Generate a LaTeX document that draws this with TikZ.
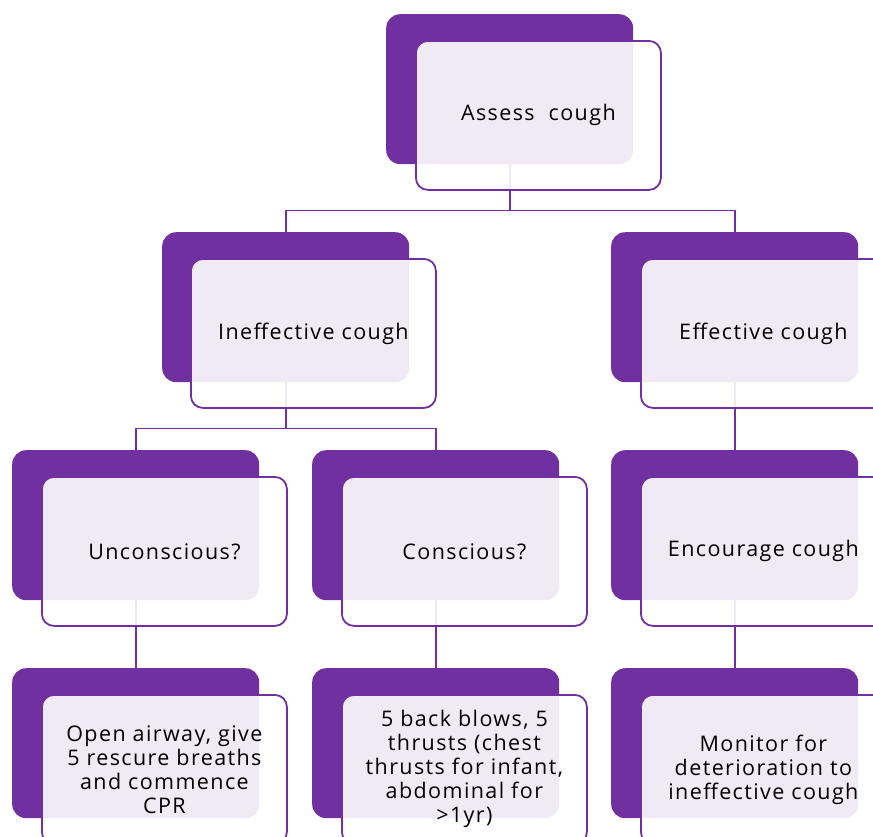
\documentclass[tikz,border=0pt]{standalone}
\usepackage{fontspec}
\setmainfont[LetterSpace=6.5]{Open Sans}
\definecolor{pp}{HTML}{7030A0}
\begin{document}
\begin{tikzpicture}[x=1pt,y=-1pt,
  darkbox/.style={fill=pp, rounded corners=14pt, anchor=north west, minimum width=247pt, minimum height=150pt, inner sep=0pt},
  litebox/.style={draw=pp, line width=1.8pt, fill=white, fill opacity=0.9, rounded corners=12pt, anchor=north west, minimum width=245pt, minimum height=149pt, inner sep=0pt},
  txt/.style={text=black, align=center, font=\fontsize{21.5}{24}\selectfont, inner sep=0pt},
  conn/.style={draw=pp, line width=1.8pt}]
\useasboundingbox (0,0) rectangle (873,836);
% back boxes
\node[darkbox] (aD) at (386,14) {};
\node[darkbox] (bD) at (162,232) {};
\node[darkbox] (cD) at (611,232) {};
\node[darkbox] (dD) at (12,450) {};
\node[darkbox] (eD) at (312,450) {};
\node[darkbox] (fD) at (611,450) {};
\node[darkbox] (gD) at (12,668) {};
\node[darkbox] (hD) at (312,668) {};
\node[darkbox] (iD) at (611,668) {};
% connectors
\draw[conn] (aD.south) -- ++(0,46) -| (bD.north);
\draw[conn] (aD.south) -- ++(0,46) -| (cD.north);
\draw[conn] (bD.south) -- ++(0,46) -| (dD.north);
\draw[conn] (bD.south) -- ++(0,46) -| (eD.north);
\draw[conn] (cD.south) -- (fD.north);
\draw[conn] (dD.south) -- (gD.north);
\draw[conn] (eD.south) -- (hD.north);
\draw[conn] (fD.south) -- (iD.north);
% front boxes
\node[litebox] (aL) at (415,40) {};
\node[litebox] (bL) at (190,258) {};
\node[litebox] (cL) at (640,258) {};
\node[litebox] (dL) at (41,476) {};
\node[litebox] (eL) at (341,476) {};
\node[litebox] (fL) at (640,476) {};
\node[litebox] (gL) at (41,694) {};
\node[litebox] (hL) at (341,694) {};
\node[litebox] (iL) at (640,694) {};
% texts
\node[txt] (aT) at (aL.center) {Assess\ \ cough};
\node[txt] (bT) at (bL.center) {Ineffective cough};
\node[txt] (cT) at (cL.center) {Effective cough};
\node[txt] (dT) at (dL.center) {Unconscious?};
\node[txt] (eT) at (eL.center) {Conscious?};
\node[txt] (fT) at (fL.center) {Encourage cough};
\node[txt] (gT) at (gL.center) {Open airway, give\\5 rescure breaths\\and commence\\CPR};
\node[txt] (hT) at (hL.center) {5 back blows, 5\\thrusts (chest\\thrusts for infant,\\abdominal for\\>1yr)};
\node[txt] (iT) at (iL.center) {Monitor for\\deterioration to\\ineffective cough};
\end{tikzpicture}
\end{document}
